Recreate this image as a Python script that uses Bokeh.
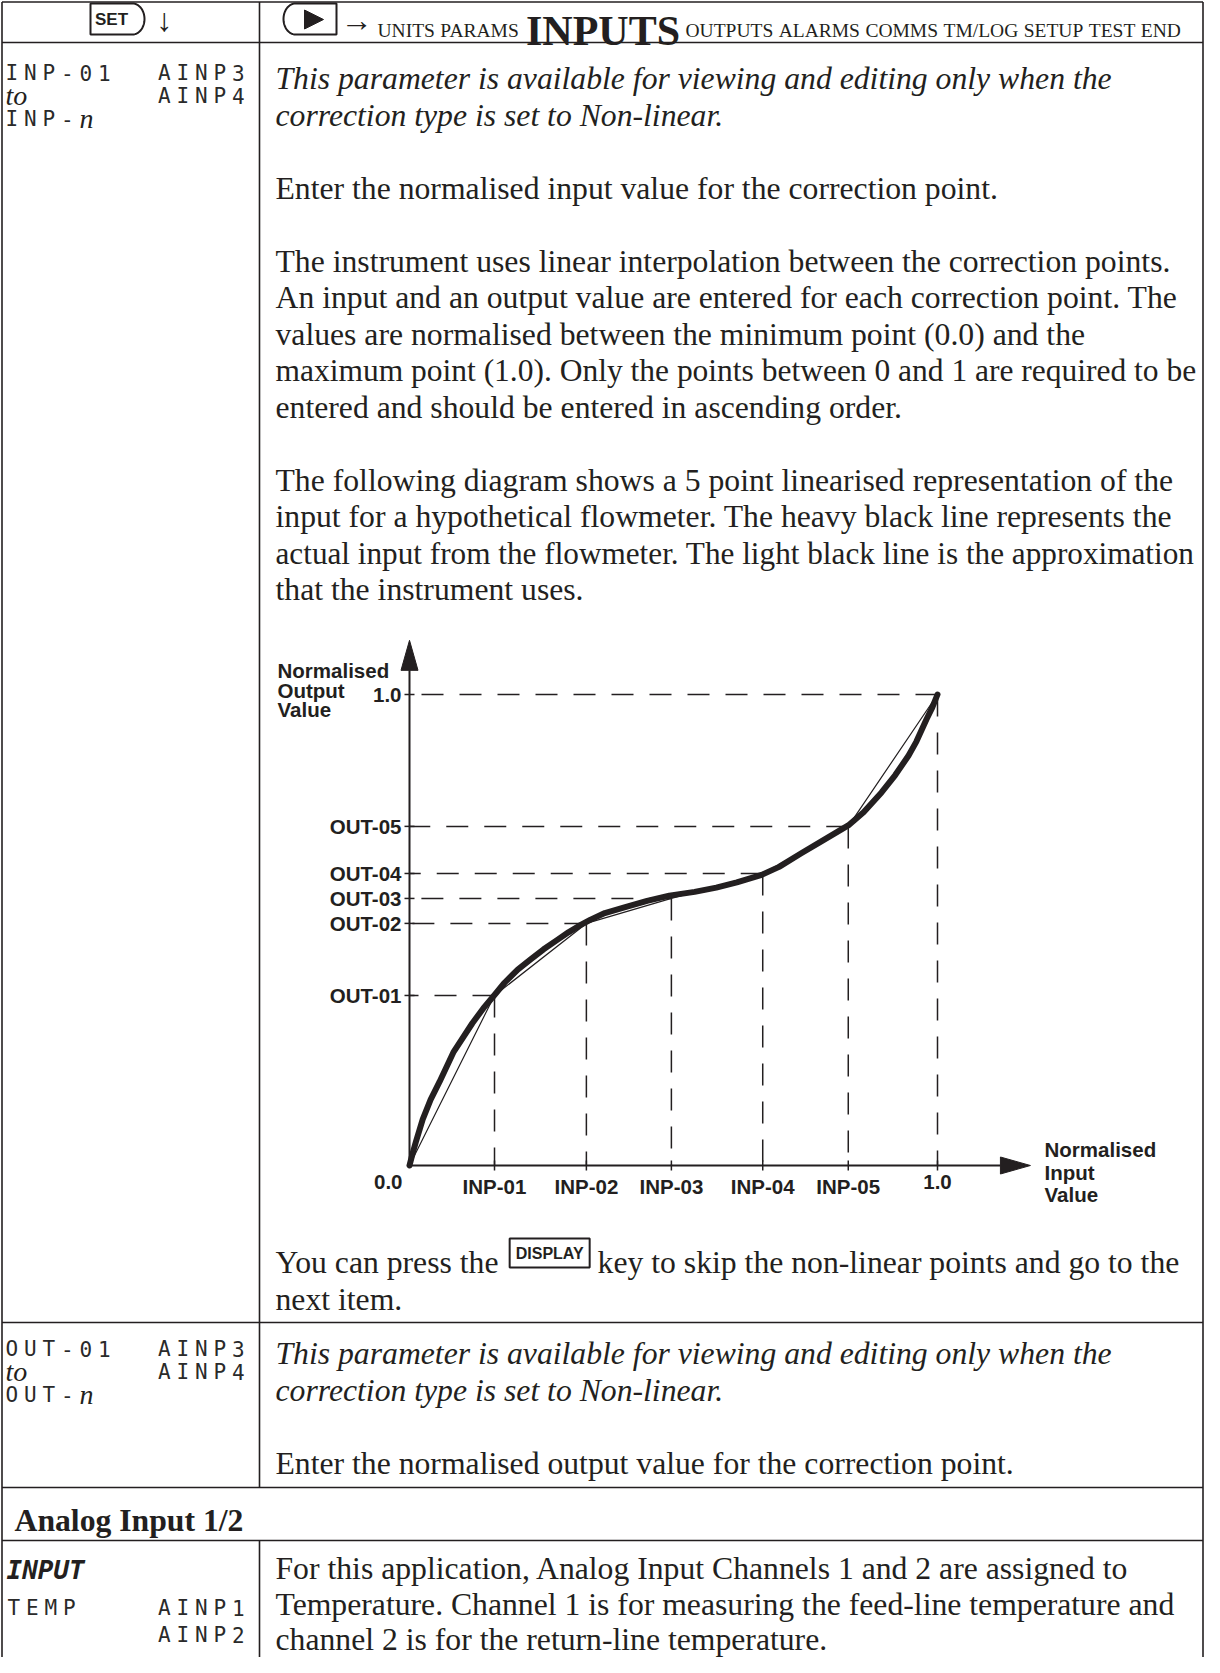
import numpy as np
from bokeh.plotting import figure
from bokeh.models import Range1d
from bokeh.core.properties import value
from bokeh.embed import file_html
from bokeh.resources import INLINE

INK = "#231f20"
SERIF = "Liberation Serif"
SANS = "Liberation Sans"
MONO = "DejaVu Sans Mono"

# ---------------- chart data (normalised) ----------------
inp_labels = ["INP-01", "INP-02", "INP-03", "INP-04", "INP-05"]
out_labels = ["OUT-01", "OUT-02", "OUT-03", "OUT-04", "OUT-05"]
inp_values = [0.161, 0.335, 0.496, 0.669, 0.831]
out_values = [0.361, 0.514, 0.567, 0.620, 0.720]
flow_x = [0.0, 0.006, 0.012, 0.025, 0.040, 0.057, 0.083, 0.119, 0.140, 0.161,
          0.180, 0.205, 0.230, 0.254, 0.280, 0.301, 0.320, 0.343, 0.370, 0.407,
          0.450, 0.492, 0.540, 0.581, 0.620, 0.667, 0.700, 0.742, 0.780, 0.831,
          0.860, 0.894, 0.920, 0.945, 0.960, 0.979, 0.990, 1.0]
flow_y = [0.0, 0.026, 0.050, 0.098, 0.140, 0.178, 0.240, 0.302, 0.334, 0.362,
          0.388, 0.416, 0.438, 0.459, 0.479, 0.495, 0.508, 0.522, 0.536, 0.548,
          0.562, 0.573, 0.581, 0.590, 0.601, 0.617, 0.634, 0.663, 0.688, 0.722,
          0.750, 0.792, 0.829, 0.870, 0.900, 0.947, 0.972, 1.0]
axis_end_labels = ["0.0", "1.0"]

# ---------------- page text ----------------
header_words = ["UNITS", "PARAMS", "INPUTS", "OUTPUTS", "ALARMS", "COMMS",
                "TM/LOG", "SETUP", "TEST", "END"]
header_current = "INPUTS"

row1_lines = [
    "This parameter is available for viewing and editing only when the",
    "correction type is set to Non-linear.",
    "Enter the normalised input value for the correction point.",
    "The instrument uses linear interpolation between the correction points.",
    "An input and an output value are entered for each correction point. The",
    "values are normalised between the minimum point (0.0) and the",
    "maximum point (1.0). Only the points between 0 and 1 are required to be",
    "entered and should be entered in ascending order.",
    "The following diagram shows a 5 point linearised representation of the",
    "input for a hypothetical flowmeter. The heavy black line represents the",
    "actual input from the flowmeter. The light black line is the approximation",
    "that the instrument uses.",
]
row1_styles = ["italic", "italic"] + ["normal"] * 10
row1_base = [86, 122.5, 195.5, 268.5, 305, 341.5, 378, 414.5, 487.5, 524, 560.5, 597]

press_before = "You can press the"
press_key = "DISPLAY"
press_after = "key to skip the non-linear points and go to the"
press_line2 = "next item."

row2_lines = [
    "This parameter is available for viewing and editing only when the",
    "correction type is set to Non-linear.",
    "Enter the normalised output value for the correction point.",
]
row2_styles = ["italic", "italic", "normal"]
row2_base = [1361, 1397.5, 1470.5]

section_title = "Analog Input 1/2"
row4_lines = [
    "For this application, Analog Input Channels 1 and 2 are assigned to",
    "Temperature. Channel 1 is for measuring the feed-line temperature and",
    "channel 2 is for the return-line temperature.",
]
row4_base = [1576, 1612, 1647]

# ---------------- helpers ----------------
TIMES = {' ': 250, ',': 250, '.': 250, '-': 333, '/': 278, '(': 333, ')': 333}
for c in "0123456789":
    TIMES[c] = 500
TIMES.update(dict(A=722, B=667, C=667, D=722, E=611, F=556, G=722, H=722, I=333,
                  J=389, K=722, L=611, M=889, N=722, O=722, P=556, Q=722, R=667,
                  S=556, T=611, U=722, V=722, W=944, X=722, Y=722, Z=611))
TIMES.update(dict(a=444, b=500, c=444, d=500, e=444, f=333, g=500, h=500, i=278,
                  j=278, k=500, l=278, m=778, n=500, o=500, p=500, q=500, r=333,
                  s=389, t=278, u=500, v=500, w=722, x=500, y=500, z=444))
TIMES_B = dict(I=389, N=722, P=611, U=722, T=667, S=556)


def tw(s, size, bold=False):
    tab = dict(TIMES)
    if bold:
        tab.update(TIMES_B)
    return sum(tab.get(ch, 500) for ch in s) / 1000.0 * size


W, H = 1204, 1657
p = figure(width=W, height=H, x_range=Range1d(8, 1212), y_range=Range1d(1665, 8),
           output_backend="svg", toolbar_location=None,
           x_axis_type=None, y_axis_type=None, min_border=0)
p.min_border_left = p.min_border_right = p.min_border_top = p.min_border_bottom = 0
p.grid.visible = False
p.outline_line_color = None
p.background_fill_color = "white"
p.border_fill_color = "white"

# ---------------- table rules ----------------
XL, XD, XR = 9.5, 267, 1210.5
YT, YH, Y1, Y2, Y3, YB = 9.5, 50, 1330, 1495, 1548, 1670
hy = [YT, YH, Y1, Y2, Y3]
p.segment(x0=[XL] * 5, y0=hy, x1=[XR] * 5, y1=hy, line_color=INK, line_width=1.6)
p.segment(x0=[XL, XR, XD, XD], y0=[YT, YT, YT, Y3], x1=[XL, XR, XD, XD],
          y1=[YB, YB, Y2, YB], line_color=INK, line_width=1.6)

# ---------------- header ----------------
t = np.linspace(-np.pi / 2, np.pi / 2, 30)
set_x = [98] + list(140 + 12 * np.cos(t)) + [98]
set_y = [11] + list(26.5 + 15.5 * np.sin(t)) + [42]
p.patch(set_x, set_y, fill_color=None, line_color=INK, line_width=2)
p.text(x=[119], y=[27], text=["SET"], text_font=value(SANS), text_font_style="bold",
       text_font_size="17px", text_align="center", text_baseline="middle", text_color=INK)
p.text(x=[172], y=[27.5], text=["\u2193"], text_font=value(SERIF), text_font_size="32px",
       text_align="center", text_baseline="middle", text_color=INK)
t2 = np.linspace(np.pi / 2, 3 * np.pi / 2, 30)
play_x = [344] + list(303 + 12 * np.cos(t2)) + [344]
play_y = [11] + list(26.5 - 15.5 * np.sin(t2)) + [42]
p.patch(play_x, play_y, fill_color=None, line_color=INK, line_width=2)
p.patch([312, 312, 331], [17.5, 36.5, 27], fill_color=INK, line_color=INK)
p.text(x=[364], y=[27.5], text=["\u2192"], text_font=value(SERIF), text_font_size="32px",
       text_align="center", text_baseline="middle", text_color=INK)

SMALL, BIG = 19.5, 42
hx = 385
xs = []
for wd in header_words:
    sz = BIG if wd == header_current else SMALL
    xs.append(hx)
    hx += tw(wd, sz, bold=(wd == header_current)) + 0.28 * SMALL
small_idx = [i for i, wd in enumerate(header_words) if wd != header_current]
p.text(x=[xs[i] for i in small_idx], y=[38] * len(small_idx),
       text=[header_words[i] for i in small_idx], text_font=value(SERIF),
       text_font_size=f"{SMALL}px", text_align="left", text_baseline="alphabetic",
       text_color=INK)
ci = header_words.index(header_current)
p.text(x=[xs[ci]], y=[38.5], text=[header_current], text_font=value(SERIF),
       text_font_style="bold", text_font_size=f"{BIG}px", text_align="left",
       text_baseline="alphabetic", text_color=INK)

# ---------------- body text ----------------
BX = 283
FSZ = 31.7
RIGHT_LIMIT = 1204


def body(lines, ys, styles, x=BX):
    for i, line in enumerate(lines):
        size = min(FSZ, (RIGHT_LIMIT - x) / (tw(line, 1.0)))
        p.text(x=[x], y=[ys[i]], text=[line], text_font=value(SERIF),
               text_font_style=styles[i], text_font_size=f"{size:.2f}px",
               text_align="left", text_baseline="alphabetic", text_color=INK)


body(row1_lines, row1_base, row1_styles)
body(row2_lines, row2_base, row2_styles)
body(row4_lines, row4_base, ["normal"] * 3)
p.text(x=[22], y=[1528], text=[section_title], text_font=value(SERIF),
       text_font_style="bold", text_font_size=f"{FSZ}px", text_baseline="alphabetic",
       text_color=INK)

# DISPLAY line
yb = 1270
FS = f"{FSZ}px"
p.text(x=[BX], y=[yb], text=[press_before], text_font=value(SERIF), text_font_size=FS,
       text_baseline="alphabetic", text_color=INK)
kx0 = BX + tw(press_before + " ", FSZ)
kw = 80
p.quad(left=[kx0], right=[kx0 + kw], top=[yb - 24], bottom=[yb + 5], fill_color=None,
       line_color=INK, line_width=2)
p.text(x=[kx0 + kw / 2], y=[yb - 9.5], text=[press_key], text_font=value(SANS),
       text_font_style="bold", text_font_size="16px", text_align="center",
       text_baseline="middle", text_color=INK)
p.text(x=[kx0 + kw + tw(" ", FSZ)], y=[yb], text=[press_after], text_font=value(SERIF),
       text_font_size=FS, text_baseline="alphabetic", text_color=INK)
p.text(x=[BX], y=[yb + 36.5], text=[press_line2], text_font=value(SERIF),
       text_font_size=FS, text_baseline="alphabetic", text_color=INK)

# ---------------- left column LCD-style codes ----------------
PITCH = 18.5


def lcd(s, x0, y, size="21px", pitch=PITCH, right=False):
    chars = list(s)
    if right:
        x0 = x0 - (len(chars) - 1) * pitch - 0.6 * float(size[:-2])
    xx = [x0 + i * pitch for i in range(len(chars))]
    keep = [i for i, c in enumerate(chars) if c != " "]
    p.text(x=[xx[i] for i in keep], y=[y] * len(keep), text=[chars[i] for i in keep],
           text_font=value(MONO), text_font_size=size, text_align="left",
           text_baseline="alphabetic", text_color="#2a2a2a")


def italic_small(s, x, y):
    p.text(x=[x], y=[y], text=[s], text_font=value(SERIF), text_font_style="italic",
           text_font_size="28px", text_baseline="alphabetic", text_color=INK)


for base, first, last in [(0, "INP-01", "INP-"), (1276, "OUT-01", "OUT-")]:
    lcd(first, 13, 80 + base)
    lcd("AINP3", 252, 80 + base, right=True)
    italic_small("to", 13, 103 + base)
    lcd("AINP4", 252, 103 + base, right=True)
    lcd(last, 13, 126 + base)
    italic_small("n", 13 + len(last) * PITCH, 126 + base)

p.text(x=[14], y=[1577], text=["INPUT"], text_font=value(MONO),
       text_font_style="bold italic", text_font_size="26px", text_baseline="alphabetic",
       text_color=INK)
lcd("TEMP", 15, 1615)
lcd("AINP1", 252, 1615, right=True)
lcd("AINP2", 252, 1642, right=True)

# ---------------- chart (normalised coordinates) ----------------
CX0, CX1 = 417.0, 945.0   # page x of 0 and 1
CY0, CY1 = 1173.0, 702.0  # page y of 0 and 1
sx = CX1 - CX0
sy = CY0 - CY1
p.extra_x_ranges = {"cx": Range1d((8 - CX0) / sx, (1212 - CX0) / sx)}
p.extra_y_ranges = {"cy": Range1d((CY0 - 1665) / sy, (CY0 - 8) / sy)}
C = dict(x_range_name="cx", y_range_name="cy")

gx = inp_values + [1.0]
gy = out_values + [1.0]
p.segment(x0=gx, y0=gy, x1=[0] * len(gx), y1=gy, line_color=INK, line_width=1.5,
          line_dash="22 16", **C)
p.segment(x0=gx, y0=gy, x1=gx, y1=[0] * len(gx), line_color=INK, line_width=1.5,
          line_dash="22 16", **C)

x_tip, y_tip = 1.176, 1.115
hl_x, hw_x = 30 / sx, 8.5 / sy
hl_y, hw_y = 30 / sy, 8.5 / sx
p.segment(x0=[0, 0], y0=[0, 0], x1=[x_tip - hl_x, 0], y1=[0, y_tip - hl_y],
          line_color=INK, line_width=2, **C)
p.patch([x_tip, x_tip - hl_x, x_tip - hl_x], [0, hw_x, -hw_x], fill_color=INK,
        line_color=INK, **C)
p.patch([0, hw_y, -hw_y], [y_tip, y_tip - hl_y, y_tip - hl_y], fill_color=INK,
        line_color=INK, **C)
p.scatter(x=gx, y=[0] * len(gx), marker="dash", angle=np.pi / 2, size=10,
          line_color=INK, line_width=1.5, **C)
p.scatter(x=[0] * len(gy), y=gy, marker="dash", size=10, line_color=INK,
          line_width=1.5, **C)

p.line(flow_x, flow_y, line_color=INK, line_width=6, line_join="round",
       line_cap="round", **C)
lin_x = [0.0] + inp_values + [1.0]
lin_y = [0.0] + out_values + [1.0]
p.line(lin_x, lin_y, line_color=INK, line_width=1.2, **C)

LAB = dict(text_font=value(SANS), text_font_style="bold", text_font_size="20.5px",
           text_color=INK)
p.text(x=gx, y=[0] * len(gx), text=inp_labels + [axis_end_labels[1]], text_align="center",
       text_baseline="top", y_offset=9, **LAB, **C)
p.text(x=[0], y=[0], text=[axis_end_labels[0]], text_align="right", text_baseline="top",
       x_offset=-7, y_offset=9, **LAB, **C)
p.text(x=[0] * len(gy), y=gy, text=out_labels + [axis_end_labels[1]], text_align="right",
       text_baseline="middle", x_offset=-8, **LAB, **C)

p.text(x=[285] * 3, y=[678, 698, 717], text=["Normalised", "Output", "Value"],
       text_align="left", text_baseline="alphabetic", **LAB)
p.text(x=[1052] * 3, y=[1157, 1179.5, 1202], text=["Normalised", "Input", "Value"],
       text_align="left", text_baseline="alphabetic", **LAB)

open("out.html", "w").write(file_html(p, INLINE))
